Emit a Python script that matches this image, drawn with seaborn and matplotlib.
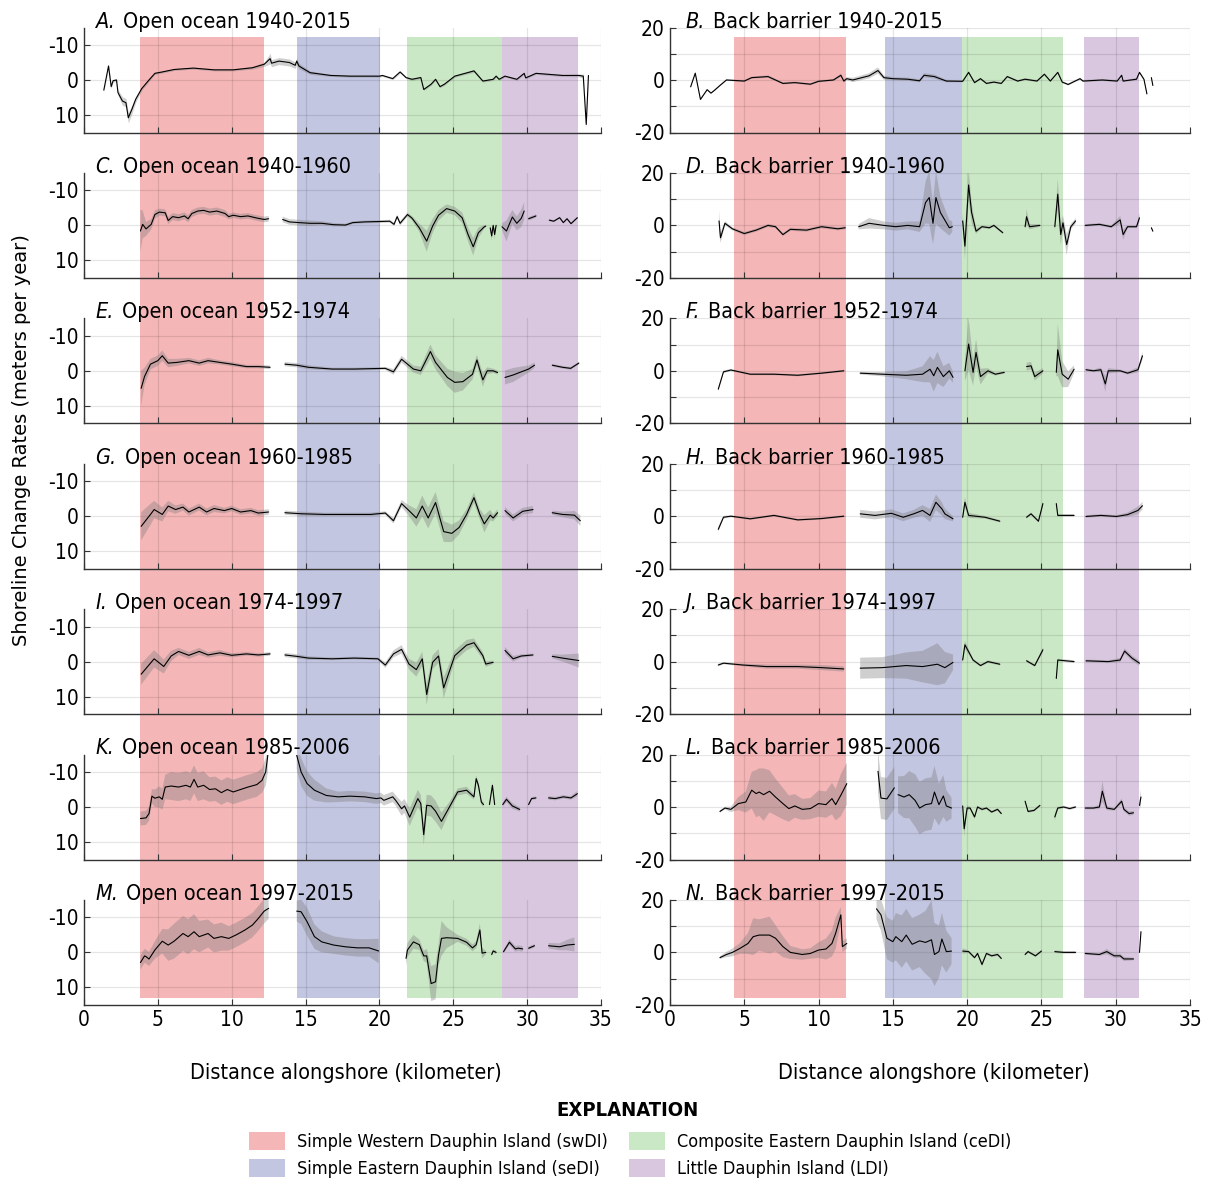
import numpy as np
import pandas as pd
import matplotlib
matplotlib.use("Agg")
import matplotlib.pyplot as plt
import matplotlib.transforms as mtransforms
from matplotlib.patches import Patch
import seaborn as sns

nan = np.nan
GAP = (nan, nan, nan)

# --- data: (distance km, rate m/yr, uncertainty half-width) ---
A = [(1.34, 2.9, 0.4), (1.66, -4.0, 0.5), (1.84, 1.9, 0.5), (1.97, 0.2, 0.4), (2.2, 0.0, 0.4),
     (2.3, 3.6, 0.8), (2.6, 6.0, 1.2), (2.84, 6.5, 1.2), (3.0, 10.8, 1.5), (3.24, 8.4, 1.2),
     (3.5, 5.5, 0.8), (3.9, 2.5, 0.5), (4.4, 0.0, 0.4), (4.8, -1.9, 0.3), (5.3, -2.3, 0.3),
     (6.1, -3.0, 0.3), (7.4, -3.4, 0.3), (8.8, -2.9, 0.3), (10.1, -2.9, 0.3), (11.4, -3.5, 0.4),
     (12.2, -4.5, 0.6), (12.6, -6.1, 1.5), (12.7, -4.8, 1.0), (13.2, -5.4, 1.0), (13.9, -5.0, 1.0),
     (14.3, -4.2, 0.9), (14.4, -5.4, 0.9), (14.55, -4.0, 0.8), (15.3, -2.1, 0.5), (16.7, -1.3, 0.3),
     (18.0, -1.1, 0.3), (20.0, -1.1, 0.3), (20.2, -1.3, 0.3), (20.9, -0.4, 0.3), (21.4, -2.3, 0.3),
     (21.8, -0.7, 0.3), (22.2, -0.2, 0.3), (22.8, -0.7, 0.3), (23.0, 2.7, 0.3), (23.5, 1.2, 0.3),
     (23.8, -0.2, 0.3), (24.1, 1.9, 0.3), (24.4, 1.2, 0.3), (25.1, -1.1, 0.3), (26.4, -2.6, 0.4),
     (27.0, 0.3, 0.3), (27.7, -0.2, 0.3), (27.9, -1.1, 0.3), (28.1, -0.2, 0.3), (28.5, -1.1, 0.3),
     (29.3, -0.2, 0.3), (29.8, -1.9, 0.3), (29.9, -0.6, 0.3), (30.6, -1.9, 0.3), (32.4, -1.3, 0.3),
     (33.5, -1.3, 0.4), (33.8, -1.1, 0.6), (34.0, 12.7, 0.8), (34.15, -1.3, 0.5)]

B = [(1.39, -2.6, 0.3), (1.7, 2.6, 0.3), (2.05, -7.4, 0.3), (2.5, -3.7, 0.3), (2.76, -5.0, 0.3),
     (3.0, -3.9, 0.3), (3.36, -2.1, 0.3), (3.8, 0.0, 0.3), (5.0, -0.4, 0.4), (5.5, 0.9, 0.4),
     (6.6, 1.3, 0.5), (7.6, -1.3, 0.4), (8.4, -1.0, 0.4), (9.45, -1.6, 0.4), (10.0, -0.5, 0.4),
     (11.0, 0.0, 0.4), (11.5, 1.8, 0.6), (11.7, -0.4, 0.6), (11.9, 0.5, 0.6), (12.3, 0.0, 0.8),
     (13.4, 1.6, 1.0), (14.0, 3.6, 1.2), (14.4, 0.9, 0.8), (15.0, 0.5, 0.6), (16.0, 0.3, 0.6),
     (16.8, -0.3, 0.6), (17.1, 1.8, 0.8), (17.8, 1.3, 0.8), (18.6, -0.4, 0.5), (19.7, -0.5, 0.4),
     (20.1, 2.9, 0.5), (20.5, -1.0, 0.4), (20.9, 0.5, 0.4), (21.3, -1.3, 0.4), (21.8, -0.8, 0.4),
     (22.3, -1.3, 0.4), (22.7, 1.3, 0.4), (23.4, -0.4, 0.4), (23.9, 0.3, 0.4), (24.7, -0.4, 0.4),
     (25.2, 2.2, 0.4), (25.6, -0.4, 0.4), (26.1, 2.9, 0.4), (26.4, -0.8, 0.4), (26.8, -1.7, 0.4),
     (27.6, 0.5, 0.4), (27.8, -0.4, 0.4), (29.1, 0.0, 0.4), (30.1, -0.4, 0.4), (30.4, 1.8, 0.4),
     (30.5, -0.4, 0.4), (31.4, 0.3, 0.4), (31.6, 2.9, 0.5), (31.9, 0.3, 0.4), (32.1, -5.3, 0.4),
     GAP, (32.4, 0.9, 0.3), (32.5, -2.1, 0.3)]

C = [(3.82, 1.6, 6.0), (3.97, -0.3, 4.0), (4.2, 1.0, 2.0), (4.55, -0.3, 1.5), (4.8, -3.1, 1.2),
     (5.1, -3.8, 1.0), (5.5, -3.6, 1.0), (5.7, -1.4, 1.0), (6.0, -2.5, 1.0), (6.4, -2.2, 1.0),
     (6.8, -2.7, 1.0), (7.05, -1.9, 1.0), (7.3, -3.4, 1.0), (7.7, -4.1, 1.0), (8.1, -4.3, 1.0),
     (8.5, -3.8, 1.0), (9.0, -4.1, 1.0), (9.55, -3.4, 1.0), (9.8, -2.5, 0.8), (10.1, -2.9, 0.8),
     (10.6, -2.5, 0.8), (11.1, -2.7, 0.8), (11.7, -2.1, 0.8), (12.2, -1.7, 0.8), (12.5, -1.9, 0.8),
     GAP, (13.45, -1.7, 0.8), (13.9, -1.0, 0.8), (14.55, -0.8, 0.8), (15.3, -0.6, 0.8),
     (16.1, -0.6, 0.6), (16.9, -0.2, 0.5), (17.7, -0.1, 0.4), (18.2, -0.8, 0.4), (19.0, -1.0, 0.4),
     (19.95, -1.1, 0.4), (20.7, -1.2, 0.4), (20.99, -0.3, 0.5), (21.2, -2.5, 0.6), (21.4, -0.6, 0.6),
     (21.9, -3.1, 0.6), (22.2, -2.1, 0.6), (22.7, 0.7, 1.2), (23.2, 4.5, 3.0), (23.6, 0.2, 2.0),
     (24.0, -2.9, 1.5), (24.55, -4.8, 1.2), (25.1, -4.1, 1.2), (25.6, -2.2, 1.5), (26.0, 2.6, 2.0),
     (26.35, 6.1, 2.5), (26.7, 2.1, 1.5), (27.1, 0.4, 0.5), (27.2, 0.2, 0.4), GAP,
     (27.5, 0.7, 0.5), (27.6, 3.0, 1.5), (27.7, 0.0, 0.5), (27.8, 2.6, 1.5), (27.9, 0.0, 0.5), GAP,
     (28.3, 0.4, 1.0), (28.6, 1.6, 3.0), (29.0, -2.4, 2.0), (29.3, -0.6, 2.0), (29.6, -2.0, 2.5),
     (29.8, -4.1, 2.5), GAP, (30.1, -1.9, 0.5), (30.6, -2.7, 0.5), GAP,
     (31.5, -1.5, 0.3), (31.8, -1.2, 0.3), (32.2, -2.2, 0.3), (32.45, -0.8, 0.3), (32.7, -1.9, 0.3),
     (32.97, -0.5, 0.3), (33.4, -2.2, 0.3)]

D = [(3.3, 1.7, 4.0), (3.4, -4.7, 2.0), (3.7, 0.8, 0.8), (4.2, -1.3, 0.6), (5.0, -3.1, 0.6),
     (5.8, -1.8, 0.6), (6.6, 0.0, 0.6), (7.1, -0.5, 0.6), (7.6, -3.5, 0.6), (8.1, -1.5, 0.6),
     (9.2, -1.8, 0.6), (10.2, -0.5, 0.6), (11.3, -1.3, 0.6), (11.8, -0.9, 0.6), GAP,
     (12.7, -0.5, 1.0), (13.4, 0.8, 2.0), (14.4, 0.0, 1.5), (15.2, -0.5, 1.5), (16.0, 0.0, 1.5),
     (16.8, -0.5, 2.0), (17.2, 8.7, 8.0), (17.45, 10.6, 10.0), (17.7, 0.8, 8.0), (17.9, 10.6, 10.0),
     (18.2, 4.9, 6.0), (18.8, -0.9, 3.0), (19.0, -0.5, 2.0), GAP,
     (19.7, 1.7, 3.0), (19.85, -7.9, 5.0), (20.1, 15.4, 6.0), (20.3, 4.9, 4.0), (20.6, -2.2, 1.0),
     (21.0, -0.5, 0.5), (21.5, -0.9, 0.5), (21.8, 0.0, 0.5), (22.4, -2.8, 0.5), GAP,
     (23.9, -0.5, 1.0), (24.0, 3.3, 3.0), (24.2, -0.5, 1.0), (24.9, 0.0, 0.5), GAP,
     (25.9, -0.5, 1.5), (26.1, 11.9, 6.0), (26.3, -3.5, 4.0), (26.45, 1.0, 3.0), (26.7, -7.3, 4.0),
     (26.98, -0.5, 1.0), (27.3, 1.7, 1.0), GAP,
     (27.95, 0.0, 0.5), (28.9, 0.4, 0.5), (29.7, -0.5, 0.5), (30.3, 2.1, 1.5), (30.5, -3.5, 2.0),
     (30.8, -0.5, 0.5), (31.4, -0.5, 0.5), (31.6, 2.9, 2.0), GAP, (32.4, -0.9, 0.3), (32.5, -2.2, 0.3)]

E = [(3.87, 5.0, 5.0), (4.1, 1.6, 2.5), (4.5, -1.9, 1.5), (5.0, -2.9, 1.5), (5.3, -4.3, 1.5),
     (5.7, -2.2, 1.2), (6.3, -2.4, 1.0), (7.1, -2.9, 0.8), (7.8, -2.2, 0.8), (8.4, -2.9, 0.8),
     (9.2, -2.4, 0.6), (10.0, -1.9, 0.6), (11.0, -1.2, 0.5), (11.8, -1.2, 0.5), (12.6, -1.0, 0.5), GAP,
     (13.6, -1.9, 0.6), (14.4, -1.6, 0.6), (15.2, -1.0, 0.6), (16.8, -0.5, 0.4), (18.3, -0.5, 0.4),
     (20.4, -0.7, 0.4), (20.95, 0.3, 0.8), (21.5, -3.3, 1.0), (22.3, -0.5, 1.0), (22.8, 0.0, 1.2),
     (23.45, -5.5, 2.0), (23.8, -2.4, 2.0), (24.6, 1.9, 2.5), (25.1, 3.3, 3.0), (25.65, 3.1, 2.5),
     (26.3, 1.0, 1.5), (26.6, -3.1, 1.5), (27.0, 2.6, 2.0), (27.3, 0.0, 1.0), (27.7, 0.0, 0.6),
     (28.0, 0.5, 0.6), GAP,
     (28.5, 1.9, 2.0), (29.05, 1.2, 2.0), (29.6, 0.3, 1.5), (30.1, -0.5, 1.0), (30.5, -1.6, 0.8), GAP,
     (31.7, -1.6, 0.4), (32.4, -1.0, 0.4), (32.95, -0.7, 0.4), (33.5, -2.2, 0.4)]

F = [(3.25, -7.0, 0.8), (3.6, -0.4, 0.5), (4.1, 0.3, 0.4), (5.4, -1.3, 0.4), (7.0, -1.3, 0.4),
     (8.6, -1.7, 0.4), (10.2, -0.9, 0.4), (11.7, 0.0, 0.4), GAP,
     (12.8, -0.9, 0.5), (14.3, -1.3, 0.8), (15.9, -1.7, 1.5), (17.0, -1.3, 3.0), (17.5, 0.6, 5.0),
     (17.75, -1.9, 6.0), (18.0, 1.3, 6.0), (18.4, -2.2, 4.0), (18.8, 0.0, 3.0), (19.05, -2.5, 2.0), GAP,
     (19.85, 0.0, 4.0), (20.1, 10.2, 10.0), (20.4, -0.6, 5.0), (20.6, 7.0, 5.0), (20.9, -2.2, 3.0),
     (21.4, 0.0, 1.0), (21.9, -1.3, 0.5), (22.5, -0.6, 0.5), GAP,
     (24.0, 1.6, 1.5), (24.3, 1.9, 1.5), (24.55, -2.2, 1.5), (25.1, 0.0, 1.0), GAP,
     (26.0, -0.6, 1.5), (26.1, 8.0, 10.0), (26.4, -1.3, 5.0), (26.8, -3.2, 3.0), (27.2, 0.6, 1.5), GAP,
     (28.0, 0.4, 0.5), (28.5, 0.0, 0.5), (29.0, 0.4, 0.8), (29.3, -5.0, 3.0), (29.5, 0.0, 1.0),
     (30.3, 0.0, 0.5), (30.8, -0.9, 0.5), (31.5, 0.4, 1.0), (31.8, 5.7, 1.5)]

G = [(3.87, 2.9, 4.0), (4.5, -0.5, 3.0), (4.75, -1.9, 2.5), (5.3, -0.5, 2.0), (5.7, -2.9, 1.5),
     (6.2, -1.9, 1.2), (6.7, -2.6, 1.0), (7.1, -1.2, 1.0), (7.8, -2.6, 1.0), (8.3, -1.2, 1.0),
     (8.8, -2.2, 1.0), (9.5, -1.6, 0.8), (10.0, -2.2, 0.8), (10.6, -1.2, 0.8), (11.3, -1.6, 0.8),
     (11.8, -0.9, 0.8), (12.5, -1.2, 0.8), GAP,
     (13.6, -1.0, 0.6), (14.7, -0.7, 0.6), (16.3, -0.5, 0.5), (17.8, -0.5, 0.5), (19.4, -0.5, 0.5),
     (20.4, -0.9, 0.5), (20.95, 1.3, 0.8), (21.5, -3.6, 1.0), (22.0, -1.6, 1.5), (22.5, 0.5, 2.5),
     (22.9, -2.9, 3.0), (23.3, 0.5, 3.0), (23.8, -3.9, 3.0), (24.35, 4.4, 3.0), (24.9, 4.9, 2.5),
     (25.4, 3.2, 2.0), (25.9, -0.5, 1.5), (26.4, -5.3, 1.5), (26.8, -0.5, 1.5), (27.1, 2.2, 2.5),
     (27.5, -0.3, 1.5), (27.7, 0.5, 1.0), (28.0, -1.0, 1.0), GAP,
     (28.5, -1.6, 1.0), (29.05, 0.5, 1.0), (29.7, -1.4, 1.0), (30.4, -1.9, 1.0), GAP,
     (31.7, -1.0, 0.6), (32.4, -0.5, 0.8), (33.2, -0.3, 1.2), (33.6, 1.3, 1.5)]

H = [(3.25, -5.0, 1.0), (3.6, -0.4, 0.5), (4.1, 0.0, 0.4), (5.4, -1.0, 0.4), (7.0, 0.3, 0.4),
     (8.6, -1.4, 0.4), (10.2, -0.9, 0.4), (11.7, 0.0, 0.4), GAP,
     (12.8, 0.9, 1.5), (13.8, 0.3, 1.5), (14.9, 1.1, 1.5), (15.7, -0.4, 1.5), (16.4, 0.9, 1.5),
     (17.0, 2.2, 2.0), (17.5, 0.3, 2.5), (17.9, 5.3, 3.0), (18.3, 2.8, 2.5), (18.5, 0.9, 2.0),
     (19.05, -1.0, 1.0), GAP,
     (19.7, -0.4, 1.0), (19.85, 5.3, 2.0), (20.1, 0.3, 1.0), (21.2, -0.4, 0.5), (22.2, -1.9, 0.5), GAP,
     (24.0, -0.4, 0.5), (24.3, 0.9, 0.5), (24.8, -1.9, 0.5), (25.1, 4.8, 1.0), GAP,
     (26.0, 4.8, 1.0), (26.1, 0.3, 0.5), (27.2, 0.3, 0.5), GAP,
     (28.0, -0.1, 0.5), (29.0, 0.3, 0.5), (30.05, -0.1, 0.5), (30.8, 0.6, 0.8), (31.5, 2.2, 1.5),
     (31.8, 4.0, 1.5)]

I = [(3.87, 3.6, 3.0), (4.75, -0.8, 2.5), (5.4, 1.4, 2.0), (5.9, -1.6, 1.5), (6.4, -2.9, 1.0),
     (7.1, -1.8, 1.0), (7.8, -2.9, 1.0), (8.4, -1.9, 0.8), (9.2, -2.5, 0.8), (10.0, -1.8, 0.6),
     (11.0, -2.2, 0.5), (11.8, -1.9, 0.5), (12.6, -2.2, 0.5), GAP,
     (13.6, -1.9, 0.6), (14.4, -1.5, 0.6), (15.2, -1.0, 0.5), (16.8, -0.8, 0.4), (18.3, -1.0, 0.4),
     (19.9, -0.8, 0.4), (20.4, 1.0, 0.8), (20.95, -2.2, 1.0), (21.5, -3.5, 1.2), (22.0, 0.7, 1.5),
     (22.5, 2.3, 2.0), (22.9, -0.8, 2.0), (23.2, 9.4, 3.0), (23.6, 0.2, 2.0), (24.0, -1.6, 2.0),
     (24.35, 7.5, 3.0), (25.1, -1.7, 1.5), (25.9, -4.7, 1.5), (26.4, -5.4, 1.2), (27.0, -1.7, 1.0),
     (27.2, 0.7, 0.8), (27.7, 0.2, 0.5), GAP,
     (28.5, -3.2, 1.0), (29.05, -0.8, 0.8), (29.6, -1.6, 0.5), (30.4, -1.9, 0.4), GAP,
     (31.7, -1.5, 0.6), (32.4, -1.0, 1.0), (33.5, -0.3, 2.0)]

J = [(3.25, -1.3, 0.5), (3.6, -0.6, 0.4), (4.9, -1.3, 0.5), (6.5, -1.9, 0.8), (8.6, -1.9, 0.8),
     (10.2, -2.3, 1.0), (11.7, -2.8, 1.0), GAP,
     (12.8, -2.5, 4.0), (14.3, -2.3, 4.0), (15.9, -1.5, 5.0), (17.0, -1.9, 6.0), (18.0, -1.0, 8.0),
     (18.5, -2.3, 6.0), (19.05, -0.3, 3.0), GAP,
     (19.7, 0.6, 1.0), (19.85, 6.4, 1.5), (20.4, 0.6, 0.5), (20.9, -1.5, 0.5), (21.4, 0.0, 0.5),
     (22.2, -1.0, 0.5), GAP,
     (24.0, 0.3, 0.5), (24.55, -1.5, 0.5), (25.1, 4.5, 1.0), GAP,
     (26.0, -6.4, 1.0), (26.1, 0.6, 0.5), (27.2, 0.0, 0.5), GAP,
     (28.0, 0.3, 0.5), (29.5, 0.0, 0.5), (30.3, 0.6, 0.8), (30.6, 4.0, 1.0), (31.1, 1.3, 1.0),
     (31.6, -0.6, 1.0)]

K = [(3.82, 3.3, 2.0), (4.2, 3.1, 2.0), (4.4, 1.9, 2.0), (4.6, -3.1, 2.0), (4.8, -2.5, 2.5),
     (5.1, -2.9, 3.0), (5.3, -2.2, 3.0), (5.5, -5.7, 3.5), (5.9, -6.0, 4.0), (6.4, -5.7, 4.0),
     (6.9, -6.2, 4.0), (7.2, -5.7, 4.0), (7.45, -7.9, 4.0), (7.7, -5.7, 4.0), (8.1, -6.2, 4.0),
     (8.5, -5.0, 3.5), (8.9, -5.2, 3.5), (9.3, -4.1, 3.5), (9.7, -5.0, 3.5), (10.1, -4.3, 3.5),
     (10.6, -5.0, 3.5), (11.1, -5.7, 3.5), (11.7, -6.4, 3.5), (12.05, -7.6, 3.5), (12.3, -10.0, 4.0),
     (12.45, -15.0, 5.0), GAP,
     (14.4, -14.8, 4.0), (14.7, -10.0, 4.0), (15.1, -6.7, 3.5), (15.6, -4.8, 3.0), (16.4, -3.3, 2.0),
     (17.2, -2.9, 1.5), (18.0, -3.1, 1.5), (19.0, -2.9, 1.5), (19.8, -2.4, 1.5), (20.1, -2.6, 1.5),
     (20.3, -1.9, 1.5), (20.9, -2.9, 1.5), (21.1, -1.9, 1.5), (21.5, 0.5, 2.0), (21.7, -0.3, 2.0),
     (22.05, 2.9, 2.5), (22.6, -2.4, 2.5), (22.8, -1.0, 2.5), (23.0, 7.9, 3.0), (23.2, -0.5, 3.0),
     (23.5, -0.3, 3.0), (23.8, 1.2, 3.0), (24.2, 4.1, 2.5), (24.7, 0.3, 1.5), (25.3, -4.3, 1.0),
     (25.9, -4.8, 1.0), (26.4, -2.9, 0.8), (26.55, -8.1, 1.0), (26.7, -6.2, 1.0), (26.9, -1.4, 0.8),
     (27.05, -0.7, 0.6), GAP,
     (27.45, -0.7, 0.5), (27.65, -6.2, 0.8), (27.8, -0.7, 0.5), GAP,
     (28.35, -0.7, 0.6), (28.6, -2.2, 0.8), (29.0, -0.3, 0.8), (29.5, 0.7, 0.6), GAP,
     (30.1, -0.7, 0.4), (30.3, -2.4, 0.4), (30.6, -2.6, 0.4), GAP,
     (31.45, -2.6, 0.5), (31.9, -2.4, 0.5), (32.45, -2.9, 0.5), (32.97, -2.6, 0.5), (33.4, -3.8, 0.8)]

L = [(3.36, -1.7, 0.5), (3.7, -0.4, 0.5), (4.1, -0.9, 1.0), (4.6, 1.3, 2.5), (5.1, 1.9, 4.0),
     (5.5, 6.4, 7.0), (5.8, 5.1, 9.0), (6.0, 5.7, 9.0), (6.3, 4.7, 10.0), (6.7, 6.0, 8.0),
     (7.1, 3.8, 7.0), (7.6, 1.3, 6.0), (8.0, -0.6, 5.0), (8.4, 0.4, 4.5), (8.9, -0.9, 4.0),
     (9.45, -0.6, 4.0), (10.0, 1.3, 5.0), (10.5, 0.9, 5.0), (10.9, 3.2, 6.0), (11.15, 0.9, 6.0),
     (11.5, 4.5, 8.0), (11.9, 8.9, 8.0), GAP,
     (14.0, 13.6, 8.0), (14.2, 3.4, 8.0), (14.6, 3.1, 8.0), (15.1, 7.3, 8.0), GAP,
     (15.35, 4.7, 7.0), (15.75, 3.8, 8.0), (16.1, 4.7, 9.0), (16.5, 2.5, 10.0), (16.8, -0.4, 10.0),
     (17.2, 0.9, 10.0), (17.6, 1.3, 10.0), (17.8, 5.7, 10.0), (18.1, 0.9, 8.0), (18.4, 4.2, 8.0),
     (18.6, 0.4, 6.0), (18.95, -0.4, 4.0), GAP,
     (19.7, 0.4, 1.0), (19.8, -8.3, 3.0), (20.0, -0.4, 1.0), (20.2, -0.4, 0.5), (20.5, -3.8, 0.8),
     (20.7, 0.0, 0.5), (21.0, -0.9, 0.5), (21.3, -0.4, 0.5), (21.65, -1.9, 0.5), (22.05, -0.9, 0.5),
     (22.3, -2.5, 0.5), GAP,
     (23.9, 2.2, 0.5), (24.1, -1.7, 0.5), (24.5, -1.3, 0.5), (24.9, 0.6, 0.5), GAP,
     (25.9, -3.8, 1.5), (26.1, -0.4, 0.5), (26.5, 0.0, 0.5), (26.9, -0.6, 0.5), (27.3, 0.0, 0.5), GAP,
     (27.95, -0.4, 0.5), (28.5, -0.4, 0.5), (28.9, 0.0, 0.8), (29.1, 6.0, 4.0), (29.4, -0.4, 0.8),
     (29.9, -0.9, 0.5), (30.4, 2.2, 1.0), (30.55, -0.9, 0.8), (30.9, -2.5, 0.8), (31.2, -2.2, 0.8), GAP,
     (31.6, 0.6, 2.0), (31.7, 3.8, 3.0)]

M = [(3.82, 2.9, 2.0), (4.1, 1.0, 2.0), (4.2, 1.2, 2.0), (4.4, 1.9, 2.0), (4.8, -0.7, 2.5),
     (5.3, -3.2, 3.5), (5.7, -2.1, 4.5), (6.1, -3.2, 5.0), (6.7, -5.4, 5.0), (7.05, -4.5, 5.0),
     (7.45, -5.9, 5.0), (7.8, -4.5, 4.5), (8.4, -5.4, 4.0), (8.8, -4.0, 4.0), (9.3, -4.5, 4.0),
     (9.8, -4.0, 3.5), (10.3, -5.0, 3.5), (10.9, -6.4, 3.5), (11.4, -7.8, 3.5), (11.8, -9.7, 3.5),
     (12.2, -11.8, 3.5), (12.5, -12.6, 3.0), GAP,
     (14.4, -11.8, 3.0), (14.7, -11.6, 3.5), (15.1, -8.8, 4.0), (15.6, -4.5, 3.5), (16.1, -3.0, 3.0),
     (16.9, -2.1, 2.5), (17.7, -1.6, 2.5), (18.5, -1.3, 2.5), (19.3, -1.3, 2.5), (19.95, -0.4, 3.5), GAP,
     (21.8, 1.7, 2.0), (21.9, -0.7, 2.0), (22.3, -3.0, 2.0), (22.7, -2.2, 1.5), (23.0, 1.0, 1.5),
     (23.2, 1.0, 2.0), (23.5, 8.9, 5.0), (23.8, 8.4, 5.0), (24.0, 0.8, 3.0), (24.2, -4.0, 5.0),
     (24.55, -4.2, 3.0), (25.3, -4.0, 1.0), (25.9, -2.9, 1.0), (26.3, -1.3, 1.0), (26.55, -2.2, 1.0),
     (26.8, -6.4, 2.0), (26.95, 0.2, 1.5), (27.2, 0.0, 0.5), GAP,
     (27.6, 0.6, 0.5), (27.7, -0.4, 0.5), (27.9, 0.0, 0.5), GAP,
     (28.4, -0.2, 0.5), (28.8, -2.9, 0.8), (29.2, -1.0, 0.8), (29.4, -1.2, 0.8), (29.7, -1.0, 0.8), GAP,
     (30.1, -1.2, 0.5), (30.5, -1.9, 0.5), GAP,
     (31.45, -1.9, 0.8), (32.2, -1.6, 1.0), (32.7, -2.1, 1.5), (33.2, -2.3, 2.0)]

N = [(3.36, -2.0, 0.5), (3.8, -0.8, 1.0), (4.2, 0.0, 1.5), (4.7, 1.5, 2.0), (5.25, 3.4, 4.0),
     (5.6, 6.0, 7.0), (6.0, 6.6, 6.0), (6.7, 6.6, 7.0), (7.1, 5.4, 5.0), (7.6, 2.2, 4.0),
     (8.1, 0.0, 2.5), (8.9, -0.8, 2.0), (9.45, -0.4, 2.0), (10.0, 0.9, 3.0), (10.5, 1.3, 4.0),
     (10.9, 3.4, 5.0), (11.15, 7.3, 6.0), (11.5, 14.3, 3.0), (11.6, 2.2, 2.0), (11.9, 3.4, 2.0), GAP,
     (13.9, 16.6, 4.0), (14.2, 14.3, 6.0), (14.6, 5.4, 8.0), (15.0, 4.1, 8.0), (15.2, 6.0, 9.0),
     (15.6, 4.1, 10.0), (15.9, 6.6, 10.0), (16.3, 3.1, 10.0), (16.8, 4.4, 10.0), (17.2, 3.8, 12.0),
     (17.6, 4.8, 15.0), (17.8, -0.8, 12.0), (18.1, 0.3, 10.0), (18.3, 5.1, 10.0), (18.6, 0.3, 8.0),
     (18.95, 0.5, 5.0), GAP,
     (19.7, 0.5, 1.0), (20.1, 0.3, 0.5), (20.5, -2.0, 0.5), (20.7, -0.4, 0.5), (21.0, -4.6, 0.8),
     (21.3, -0.4, 0.5), (21.65, -1.3, 0.5), (22.05, -0.8, 0.5), (22.3, -2.3, 0.5), GAP,
     (23.9, -0.8, 0.5), (24.1, 0.3, 0.5), (24.6, -1.3, 0.5), (25.0, 0.5, 0.5), GAP,
     (25.9, 0.3, 0.5), (26.5, 0.0, 0.5), (27.3, 0.0, 0.5), GAP,
     (27.95, -0.4, 0.5), (28.9, -0.8, 0.5), (29.4, 0.3, 1.0), (29.9, -1.3, 0.8), (30.3, -1.3, 0.8),
     (30.55, -2.5, 0.8), (31.2, -2.5, 0.5), GAP, (31.6, 0.0, 0.3), (31.7, 7.9, 0.3)]

left_series = [A, C, E, G, I, K, M]
right_series = [B, D, F, H, J, L, N]
left_letters = ["A.", "C.", "E.", "G.", "I.", "K.", "M."]
right_letters = ["B.", "D.", "F.", "H.", "J.", "L.", "N."]
periods = ["1940-2015", "1940-1960", "1952-1974", "1960-1985", "1974-1997", "1985-2006", "1997-2015"]

region_names = ["Simple Western Dauphin Island (swDI)", "Simple Eastern Dauphin Island (seDI)",
                "Composite Eastern Dauphin Island (ceDI)", "Little Dauphin Island (LDI)"]
region_colors = ["#f5b6b7", "#c3c6e1", "#cbe8c6", "#d9c7e0"]
left_regions = [(3.8, 12.2), (14.4, 20.05), (21.9, 28.3), (28.3, 33.45)]
right_regions = [(4.3, 11.85), (14.5, 19.65), (19.65, 26.45), (27.85, 31.6)]

x_ticks = [0, 5, 10, 15, 20, 25, 30, 35]

# --- style ---
sns.set_theme(style="white")
plt.rcParams["font.family"] = ["DejaVu Sans"]
plt.rcParams["font.stretch"] = "condensed"
plt.rcParams["text.color"] = "black"
plt.rcParams["xtick.labelcolor"] = "black"
plt.rcParams["ytick.labelcolor"] = "black"

W, H = 1206, 1182
fig = plt.figure(figsize=(W / 100, H / 100), dpi=100)

col_left = [84 / W, 670 / W]
col_width = [517 / W, 520 / W]
row_top0, row_step, row_h = 27.5, 145.4, 105.0

# background shading spanning all panels of a column
for c, regions in enumerate([left_regions, right_regions]):
    bg = fig.add_axes([col_left[c], 1 - 998 / H, col_width[c], (998 - 37) / H])
    bg.set_zorder(0)
    bg.set_xlim(0, 35)
    bg.axis("off")
    for (a, b), col in zip(regions, region_colors):
        bg.axvspan(a, b, color=col, lw=0)


def make_df(pts):
    arr = np.array(pts, dtype=float)
    df = pd.DataFrame(arr, columns=["x", "y", "w"])
    df["seg"] = df["x"].isna().cumsum()
    return df


for c, (series, letters, kind) in enumerate([(left_series, left_letters, "Open ocean"),
                                              (right_series, right_letters, "Back barrier")]):
    for r in range(7):
        top = row_top0 + r * row_step
        ax = fig.add_axes([col_left[c], 1 - (top + row_h) / H, col_width[c], row_h / H])
        ax.set_zorder(1)
        ax.patch.set_alpha(0)
        df = make_df(series[r])

        ax.fill_between(df["x"], df["y"] - df["w"], df["y"] + df["w"],
                        color="#7a7a7a", alpha=0.36, lw=0)
        sns.lineplot(data=df.dropna(), x="x", y="y", units="seg", estimator=None,
                     color="black", lw=0.8, ax=ax, legend=False)

        ax.set_xlim(0, 35)
        ax.set_xticks(x_ticks)
        if c == 0:
            ax.set_ylim(15, -15)
            ax.set_yticks([-10, 0, 10])
            ax.set_yticklabels(["-10", "0", "10"])
        else:
            ax.set_ylim(-20, 20)
            ax.set_yticks([-20, -10, 0, 10, 20])
            ax.set_yticklabels(["-20", "", "0", "", "20"])
        ax.grid(True, color="black", alpha=0.1, lw=0.9)
        ax.set_axisbelow(True)
        for s in ["top", "right"]:
            ax.spines[s].set_visible(False)
        for s in ["left", "bottom"]:
            ax.spines[s].set_color("#333333")
            ax.spines[s].set_linewidth(1.0)
        ax.tick_params(direction="in", length=4, width=0.8, color="#333333",
                       labelsize=15, pad=4, left=True, bottom=True, labelcolor="black")
        if r < 6:
            ax.set_xticklabels([])
        ax.set_xlabel("")
        ax.set_ylabel("")

        trans = mtransforms.blended_transform_factory(ax.transData, ax.transAxes)
        x0 = 0.75 if c == 0 else 1.05
        let = ax.text(x0, 1.0, letters[r], transform=trans, fontsize=15.5,
                      fontstyle="italic", va="baseline", ha="left", zorder=5)
        ax.annotate(f"{kind} {periods[r]}", xy=(1, 0), xycoords=let,
                    xytext=(6, 0), textcoords="offset points",
                    fontsize=15.5, va="bottom", ha="left", zorder=5)

fig.text(22 / W, 1 - 440 / H, "Shoreline Change Rates (meters per year)", rotation=90,
         ha="center", va="center", fontsize=14, fontstretch="normal")
fig.text(346 / W, 1 - 1073 / H, "Distance alongshore (kilometer)", ha="center",
         va="center", fontsize=15.5)
fig.text(934 / W, 1 - 1073 / H, "Distance alongshore (kilometer)", ha="center",
         va="center", fontsize=15.5)

fig.text(627 / W, 1 - 1110 / H, "EXPLANATION", ha="center", va="center",
         fontsize=14.5, fontweight="bold")
handles = [Patch(facecolor=col, edgecolor="none") for col in region_colors]
fig.legend(handles, region_names, loc="upper center", bbox_to_anchor=(630 / W, 1 - 1121 / H),
           ncol=2, frameon=False, fontsize=13, labelcolor="black",
           handlelength=2.0, handleheight=1.15, columnspacing=1.2,
           labelspacing=0.45, handletextpad=0.65, borderpad=0.1)

fig.savefig("out.png", dpi=100)
